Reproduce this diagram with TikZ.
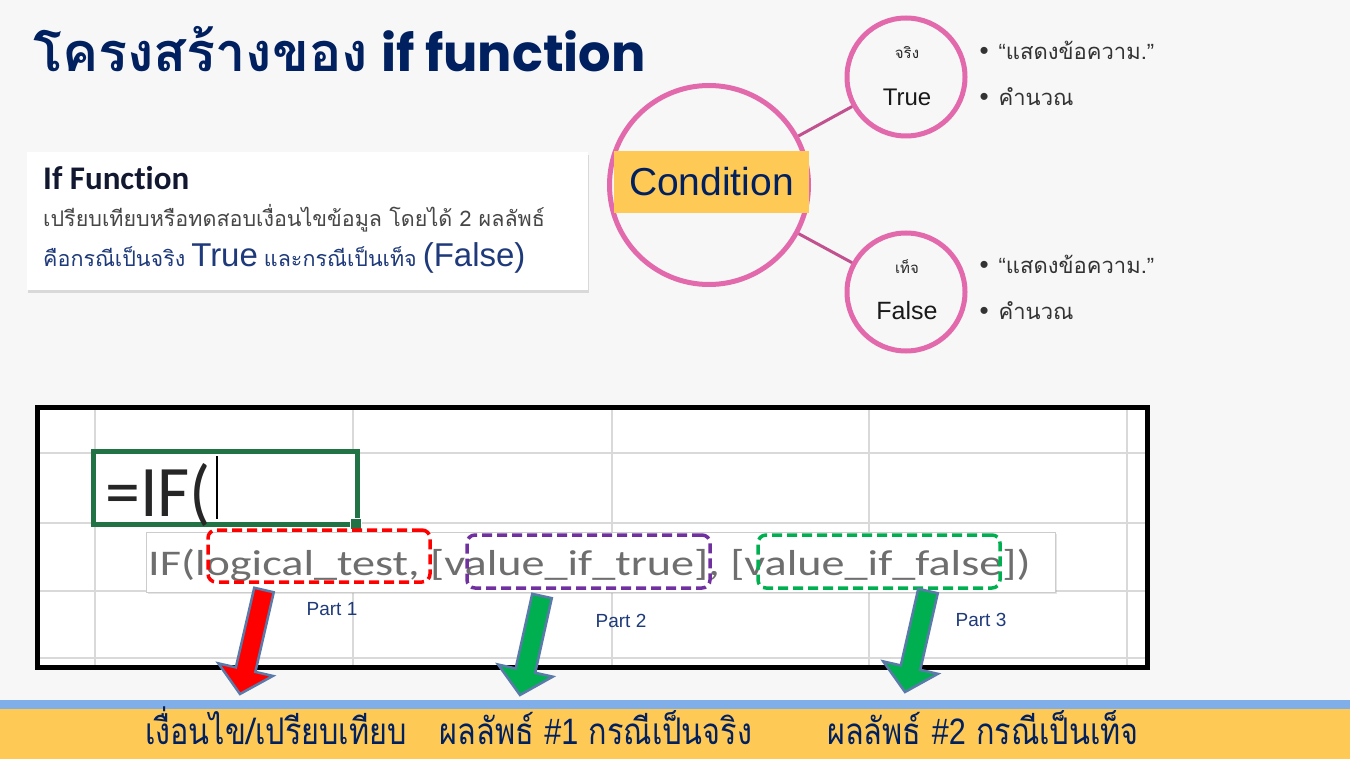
\documentclass[tikz,border=0pt]{standalone}
\usepackage{fontspec}
\setmainfont{Liberation Sans}
\newfontfamily\thai[Script=Thai]{Loma}
\newfontfamily\carlito[Ligatures=CommonOff]{Carlito}
\newfontfamily\popp{Poppins}
\usetikzlibrary{calc,shadows}

\definecolor{bggray}{HTML}{F7F7F7}
\definecolor{navy}{HTML}{002060}
\definecolor{midnavy}{HTML}{1F3A7A}
\definecolor{inkblack}{HTML}{111830}
\definecolor{textgray}{HTML}{333333}
\definecolor{pinkring}{HTML}{E26AAC}
\definecolor{pinkedge}{HTML}{C2528F}
\definecolor{gold}{HTML}{FFC955}
\definecolor{skyband}{HTML}{80AEE8}
\definecolor{xlgreen}{HTML}{217346}
\definecolor{gridgray}{HTML}{D9D9D9}
\definecolor{tipgray}{HTML}{6E6E6E}
\definecolor{partred}{HTML}{FF0000}
\definecolor{partpurple}{HTML}{7030A0}
\definecolor{partgreen}{HTML}{00B050}
\definecolor{arrowedge}{HTML}{5A7AAA}

% block arrow from tail #1 to tip #2, filled with #3
\newcommand\fatarrow[3]{%
  \coordinate (#1neck) at ($(#2)!25pt!(#1)$);
  \filldraw[fill=#3, draw=arrowedge, line width=2.5, line join=miter]
    ($(#1)!10pt!90:(#2)$) -- ($(#1neck)!10pt!90:(#2)$)
    -- ($(#1neck)!28pt!90:(#2)$) -- (#2)
    -- ($(#1neck)!28pt!-90:(#2)$) -- ($(#1neck)!10pt!-90:(#2)$)
    -- ($(#1)!10pt!-90:(#2)$) -- cycle;
}
\newcommand\quoted[1]{{\fontspec{Liberation Sans}“}#1{\fontspec{Liberation Sans}”}}

\begin{document}
\begin{tikzpicture}[x=1pt, y=-1pt,
    ring/.style={circle, draw=pinkring, fill=bggray, line width=5},
    partbox/.style={rectangle, rounded corners=8, line width=3.5, dash pattern=on 10pt off 5pt},
    partlabel/.style={anchor=base, text=midnavy, font=\fontsize{19}{22}\selectfont},
    bullettext/.style={anchor=base west, text=textgray, font=\fontsize{22}{26}\selectfont\thai},
    bandtext/.style={anchor=base, inner sep=0, text=navy, font=\fontsize{34}{38}\selectfont\thai}]
    \useasboundingbox (0,0) rectangle (1350,759);
    \fill[bggray] (0,0) rectangle (1350,759);

    % Title
    \node (title) [anchor=base west, text=navy, inner sep=0] at (33,72)
        {{\fontsize{54}{60}\selectfont\thai\bfseries โครงสร้างของ}\hspace{13pt}{\fontsize{51}{60}\selectfont\popp\bfseries if function}};

    % Info box
    \node (info) [rectangle, fill=white, minimum width=561, minimum height=138,
        drop shadow={opacity=0.25, shadow xshift=1pt, shadow yshift=-3pt}] at (307.5,221) {};
    \node (infohead) [anchor=base west, inner sep=0, text=inkblack] at (43,190)
        {\fontsize{33}{36}\selectfont\carlito\bfseries If Function};
    \node (infoline1) [anchor=base west, inner sep=0, text=textgray!90] at (43,227)
        {\fontsize{21.5}{25}\selectfont\thai เปรียบเทียบหรือทดสอบเงื่อนไขข้อมูล โดยได้ 2 ผลลัพธ์};
    \node (infoline2) [anchor=base west, inner sep=0, text=midnavy] at (43,267)
        {\fontsize{21.5}{25}\selectfont{\thai คือกรณีเป็นจริง} {\fontsize{33}{36}\selectfont True} {\thai และกรณีเป็นเท็จ} {\fontsize{33}{36}\selectfont (False)}};

    % Condition and its two outcomes
    \node (cond) [ring, minimum size=199] at (709,185) {};
    \node (truec) [ring, minimum size=118] at (906,77) {};
    \node (falsec) [ring, minimum size=118] at (906,292) {};
    \draw[pinkedge, line width=3] (cond) -- (truec);
    \draw[pinkedge, line width=3] (cond) -- (falsec);
    \node (condband) [rectangle, fill=gold, minimum width=195, minimum height=62] at (711.5,182) {};
    \node (condtext) [anchor=base, text=navy, font=\fontsize{39}{44}\selectfont] at (711.5,196) {Condition};

    \node (truetag) [text=black!85, font=\fontsize{15}{18}\selectfont\thai] at (907,53) {จริง};
    \node (trueword) [anchor=base, text=black!90, font=\fontsize{24}{28}\selectfont] at (907,106) {True};
    \node (falsetag) [text=black!85, font=\fontsize{15}{18}\selectfont\thai] at (907,267) {เท็จ};
    \node (falseword) [anchor=base, text=black!90, font=\fontsize{25}{28}\selectfont] at (907,320) {False};

    \node (tshow) [bullettext] at (976,60) {{\fontspec{Liberation Sans}\fontsize{26}{26}\selectfont•}\hspace{10pt}\quoted{แสดงข้อความ.}};
    \node (tcalc) [bullettext] at (976,106) {{\fontspec{Liberation Sans}\fontsize{26}{26}\selectfont•}\hspace{10pt}คำนวณ};
    \node (fshow) [bullettext] at (976,274) {{\fontspec{Liberation Sans}\fontsize{26}{26}\selectfont•}\hspace{10pt}\quoted{แสดงข้อความ.}};
    \node (fcalc) [bullettext] at (976,320) {{\fontspec{Liberation Sans}\fontsize{26}{26}\selectfont•}\hspace{10pt}คำนวณ};

    % Spreadsheet
    \node (sheet) [rectangle, fill=white, minimum width=1110, minimum height=260,
        drop shadow={opacity=0.3, shadow xshift=3pt, shadow yshift=-3pt}] at (592,537) {};
    \begin{scope}
        \clip (37,407) rectangle (1147,667);
        \foreach \gx in {95,353,612,869,1127}
            \draw[gridgray, line width=2] (\gx,407) -- (\gx,667);
        \foreach \gy in {453,523,591,658}
            \draw[gridgray, line width=2] (37,\gy) -- (1147,\gy);
    \end{scope}
    \node (cell) [rectangle, draw=xlgreen, fill=white, line width=5, minimum width=264, minimum height=73] at (225,488) {};
    \node (handle) [rectangle, fill=xlgreen, draw=white, line width=1.5, minimum size=11, inner sep=0] at (356,524) {};
    \node (formula) [anchor=base west, inner sep=0, text=black!85] at (105,516)
        {\scalebox{1.06}[1.1]{\fontsize{66}{70}\selectfont\carlito =IF(}};
    \draw[black, line width=1.5] (217,456) -- (217,519);

    \node (tip) [rectangle, fill=white, draw=black!20, line width=1, minimum width=909, minimum height=60,
        drop shadow={opacity=0.2, shadow xshift=2pt, shadow yshift=-2pt}] at (600.5,562) {};
    \node (tiptext) [anchor=base west, inner sep=0, text=tipgray] at (148,575)
        {\scalebox{1.1}[0.86]{\fontsize{42}{46}\selectfont\carlito IF(logical\_test, [value\_if\_true], [value\_if\_false])}};

    \node (p1) [partbox, draw=partred, minimum width=222, minimum height=52] at (319,556) {};
    \node (p2) [partbox, draw=partpurple, minimum width=243, minimum height=53] at (588.5,561.5) {};
    \node (p3) [partbox, draw=partgreen, minimum width=242, minimum height=53] at (879,561.5) {};
    \node (part1) [partlabel] at (332,615) {Part 1};
    \node (part2) [partlabel] at (621,627) {Part 2};
    \node (part3) [partlabel] at (981,626) {Part 3};

    \draw[black, line width=5] (37,407) rectangle (1147,667);

    % Bottom band
    \fill[skyband] (0,700) rectangle (1350,709);
    \fill[gold] (0,709) rectangle (1350,759);
    \node (b1) [bandtext] at (276,744) {\scalebox{0.9}[1.08]{เงื่อนไข/เปรียบเทียบ}};
    \node (b2) [bandtext] at (596,744) {\scalebox{0.9}[1.08]{ผลลัพธ์ {\fontspec{Liberation Sans}\#1} กรณีเป็นจริง}};
    \node (b3) [bandtext] at (983,744) {\scalebox{0.9}[1.08]{ผลลัพธ์ {\fontspec{Liberation Sans}\#2} กรณีเป็นเท็จ}};

    % Arrows from the parts down to the band
    \coordinate (a1) at (264,590);
    \coordinate (h1) at (240,694);
    \coordinate (a2) at (542,596);
    \coordinate (h2) at (520,695);
    \coordinate (a3) at (928,591);
    \coordinate (h3) at (905,692);
    \fatarrow{a1}{h1}{partred}
    \fatarrow{a2}{h2}{partgreen}
    \fatarrow{a3}{h3}{partgreen}
\end{tikzpicture}
\end{document}
